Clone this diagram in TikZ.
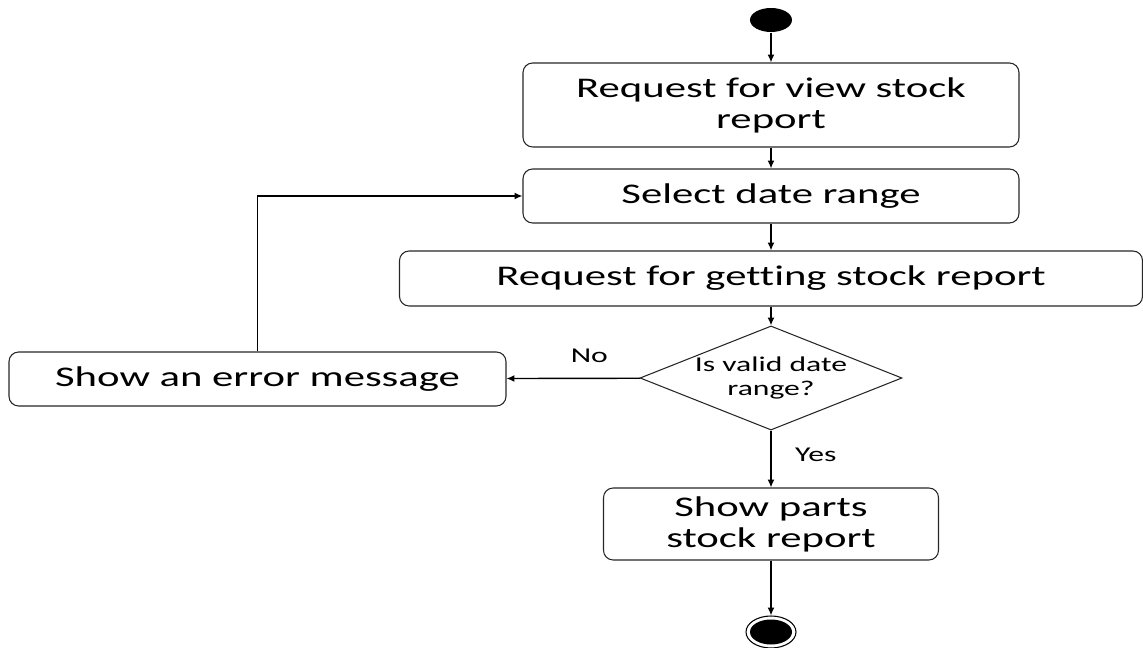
\documentclass[tikz,border=0pt]{standalone}
\usepackage{fontspec}
\setmainfont[FakeStretch=1.5,Ligatures=NoCommon]{Carlito}
\usetikzlibrary{shapes.geometric,arrows.meta}

\begin{document}
\begin{tikzpicture}
		[x=0.2mm,y=-0.2mm,>={Latex[length=4.5pt,width=4pt]},line width=0.8pt,
		act/.style={draw=black!85,line width=0.6pt,rounded corners=5.5pt,align=center,inner sep=0pt,font=\fontsize{16.2}{17.6}\selectfont},
		dec/.style={diamond,draw=black!85,line width=0.6pt,aspect=2.5,inner sep=0pt,minimum width=5.24cm,minimum height=2.08cm,align=center,font=\fontsize{12}{14.2}\selectfont},
		lab/.style={font=\fontsize{12}{14}\selectfont}]
		
		\useasboundingbox (0,0) rectangle (1143,648);
		
		\node[ellipse,fill=black,minimum width=0.84cm,minimum height=0.48cm,inner sep=0pt] (start) at (771,20) {};
		\node[act,minimum width=9.92cm,minimum height=1.68cm] (req) at (771,105) {Request for view stock\\report};
		\node[act,minimum width=9.92cm,minimum height=1.08cm] (sel) at (771,196) {Select date range};
		\node[act,minimum width=14.86cm,minimum height=1.1cm] (get) at (771,278.5) {Request for getting stock report};
		\node[dec] (chk) at (771,378) {Is valid date\\range?};
		\node[act,minimum width=9.94cm,minimum height=1.08cm] (err) at (257.5,379) {Show an error message};
		\node[act,minimum width=6.7cm,minimum height=1.44cm] (show) at (771,524) {Show parts\\stock report};
		\node[ellipse,draw,line width=0.6pt,minimum width=1cm,minimum height=0.64cm,inner sep=0pt] (stop) at (771,632) {};
		\fill (stop.center) ellipse (0.42cm and 0.25cm);
		
		\draw[->] (start) -- (req);
		\draw[->] (req) -- (sel);
		\draw[->] (sel) -- (get);
		\draw[->] (get) -- (chk);
		\draw[->] (chk) -- node[lab,pos=0.38,above=5pt]{No} (err);
		\draw[->] (err) |- (sel);
		\draw[->] (chk) -- node[lab,pos=0.42,right=10pt]{Yes} (show);
		\draw[->] (show) -- (stop);
	
	\end{tikzpicture}
\end{document}
